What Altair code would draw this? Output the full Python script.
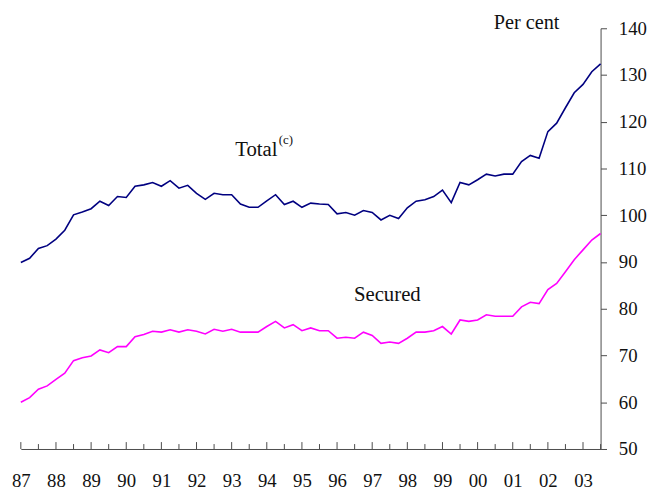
import altair as alt
import pandas as pd

# ---- data (quarterly, 1987 Q1 onwards) ----
start_year = 1987
total = [89.9, 90.8, 92.9, 93.5, 94.9, 96.8, 100.1, 100.7, 101.4, 103.0, 102.1, 104.0, 103.8,
         106.2, 106.5, 107.0, 106.2,
         107.4, 105.8, 106.4, 104.7, 103.4, 104.7, 104.4, 104.4, 102.4, 101.7, 101.7, 103.1,
         104.4, 102.3, 103.0, 101.7, 102.6,
         102.4, 102.3, 100.3, 100.6, 100.0, 101.0, 100.6, 99.0, 100.0, 99.3, 101.6, 103.0,
         103.3, 104.0, 105.4, 102.7,
         107.0, 106.5, 107.6, 108.8, 108.4, 108.8, 108.8, 111.5, 112.8, 112.2, 117.9, 119.7,
         123.0, 126.2, 128.0, 130.7, 132.4]
secured = [60.0, 61.0, 62.8, 63.5, 64.9, 66.2, 68.9, 69.5, 69.9, 71.2, 70.6, 71.9, 71.9,
           74.0, 74.5, 75.2, 75.0,
           75.5, 75.0, 75.5, 75.2, 74.6, 75.6, 75.2, 75.6, 75.0, 75.0, 75.0, 76.2, 77.3, 75.9,
           76.6, 75.3, 75.9,
           75.3, 75.3, 73.7, 73.9, 73.7, 75.0, 74.3, 72.6, 72.9, 72.6, 73.7, 75.0, 75.0, 75.3,
           76.2, 74.6,
           77.6, 77.3, 77.6, 78.7, 78.4, 78.4, 78.4, 80.4, 81.4, 81.1, 84.1, 85.4, 87.9, 90.5,
           92.6, 94.7, 96.1]
series_names = ["Total", "Secured"]
series_colors = ["#000080", "#FF00FF"]
year_labels = ["87", "88", "89", "90", "91", "92", "93", "94", "95", "96", "97", "98",
               "99", "00", "01", "02", "03"]
y_ticks = [50, 60, 70, 80, 90, 100, 110, 120, 130, 140]
y_title = "Per cent"

# annotation labels (data coordinates)
ann_main = pd.DataFrame({"t": [1993.1, 1996.48], "v": [112.6, 81.6],
                         "label": ["Total", "Secured"]})
ann_sup = pd.DataFrame({"t": [1994.34], "v": [115.3], "label": ["(c)"]})

# ---- build tables ----
n = len(total)
periods = [start_year + 0.25 * i for i in range(n)]
df = pd.DataFrame({
    "t": periods * 2,
    "v": total + secured,
    "series": ["Total"] * n + ["Secured"] * n,
})
years = [start_year + i for i in range(len(year_labels))]
half_years = [y + 0.5 for y in years]

W, H = 587, 426
FONT = "Liberation Serif"
AXIS_COLOR = "#4a4a4a"
TEXT_COLOR = "#111111"

x_scale = alt.Scale(domain=[start_year, start_year + 0.25 * (n - 1)], nice=False, zero=False)
y_scale = alt.Scale(domain=[y_ticks[0], y_ticks[-1]], nice=False, zero=False)

label_expr = "[" + ",".join("'%s'" % s for s in year_labels) + "][round(datum.value) - %d]" % start_year

x_axis = alt.Axis(values=years, labelExpr=label_expr, ticks=False, grid=False,
                  domainColor=AXIS_COLOR, domainWidth=1, labelFont=FONT,
                  labelFontSize=19, labelColor=TEXT_COLOR, labelPadding=23,
                  labelFlush=False, labelOverlap=False, labelBound=False,
                  title=None)
y_axis = alt.Axis(orient="right", values=y_ticks, grid=False, tickSize=6,
                  tickColor=AXIS_COLOR, domainColor=AXIS_COLOR, domainWidth=1,
                  labelFont=FONT, labelFontSize=19, labelColor=TEXT_COLOR,
                  labelPadding=12, labelFlush=False, labelOverlap=False,
                  title=y_title, titleAngle=0, titleX=-75.5, titleY=0,
                  titleAlign="center", titleBaseline="alphabetic",
                  titleFont=FONT, titleFontSize=20.5, titleFontWeight="normal",
                  titleColor=TEXT_COLOR)

lines = alt.Chart(df).mark_line(strokeWidth=1.6).encode(
    x=alt.X("t:Q", scale=x_scale, axis=x_axis),
    y=alt.Y("v:Q", scale=y_scale, axis=y_axis),
    color=alt.Color("series:N", scale=alt.Scale(domain=series_names, range=series_colors),
                    legend=None),
)

major_ticks = alt.Chart(pd.DataFrame({"t": years})).mark_rule(
    color=AXIS_COLOR, strokeWidth=1).encode(
    x=alt.X("t:Q", scale=x_scale, axis=x_axis), y=alt.value(H), y2=alt.value(H - 7))
minor_ticks = alt.Chart(pd.DataFrame({"t": half_years})).mark_rule(
    color=AXIS_COLOR, strokeWidth=1).encode(
    x=alt.X("t:Q", scale=x_scale, axis=x_axis), y=alt.value(H), y2=alt.value(H - 5))

text_main = alt.Chart(ann_main).mark_text(
    font=FONT, fontSize=21, align="left", baseline="alphabetic", color=TEXT_COLOR).encode(
    x=alt.X("t:Q", scale=x_scale, axis=x_axis), y=alt.Y("v:Q", scale=y_scale, axis=y_axis),
    text="label:N")
text_sup = alt.Chart(ann_sup).mark_text(
    font=FONT, fontSize=13, align="left", baseline="alphabetic", color=TEXT_COLOR).encode(
    x=alt.X("t:Q", scale=x_scale, axis=x_axis), y=alt.Y("v:Q", scale=y_scale, axis=y_axis),
    text="label:N")

chart = alt.layer(lines, major_ticks, minor_ticks, text_main, text_sup).properties(
    width=W, height=H,
    autosize=alt.AutoSizeParams(type="none"),
    padding={"left": 13, "top": 17.5, "right": 47, "bottom": 40},
    background="white",
).configure_view(stroke=None).configure_axis(labelOverlap=False)

chart.save("out.html", embed_options={"renderer": "svg", "actions": False})
